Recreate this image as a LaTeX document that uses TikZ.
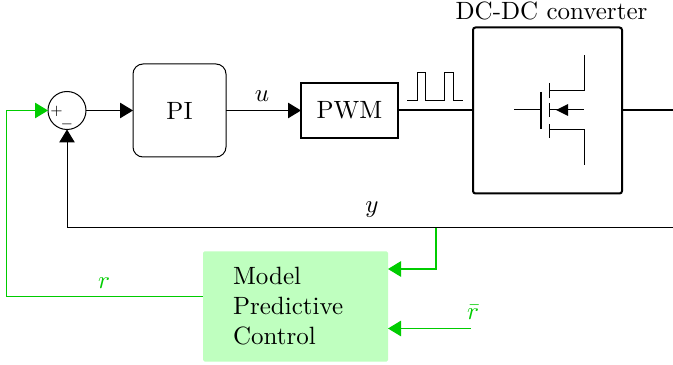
\documentclass[tikz,border=0pt]{standalone}
\usetikzlibrary{arrows.meta}
\definecolor{mpcgreen}{rgb}{0,0.8,0}
\definecolor{mpcfill}{rgb}{0.75,1,0.75}
\tikzset{
  px/.style={x=0.4pt,y=-0.4pt},
  tip/.style={-{Triangle[length=5.2pt,width=6.2pt]}},
  wire/.style={line width=0.4pt},
  heavy/.style={line width=0.8pt},
  feed/.style={line width=0.4pt,draw=mpcgreen,fill=mpcgreen},
  gwire/.style={feed,tip},
  lbl/.style={inner sep=0pt},
  glbl/.style={inner sep=0pt,text=mpcgreen},
  sign/.style={inner sep=0pt,font=\fontsize{5}{6}\selectfont},
  sumnode/.style={circle,draw,line width=0.4pt,minimum size=15.2pt,inner sep=0pt,outer sep=0pt},
  pibox/.style={draw,line width=0.4pt,rounded corners=4pt,minimum width=37.2pt,minimum height=37.2pt,inner sep=0pt,outer sep=0pt},
  pwmbox/.style={draw,heavy,minimum width=38.8pt,minimum height=22pt,inner sep=0pt,outer sep=0pt},
  dcbox/.style={draw,heavy,rounded corners=1pt,minimum width=59.6pt,minimum height=66.4pt,inner sep=0pt,outer sep=0pt},
  mpcbox/.style={fill=mpcfill,rounded corners=0.6pt,text width=50pt,align=left,inner xsep=12pt,inner ysep=0pt,minimum height=44pt,outer sep=0pt},
}
\begin{document}
\begin{tikzpicture}[px]
\useasboundingbox (0,0) rectangle (673,365);
% blocks
\node[sumnode] (sum) at (67,110.5) {};
\node[sign] (plus) at (56.5,111.5) {$+$};
\node[sign] (minus) at (67,124.5) {$-$};
\node[pibox] (pi) at (179.5,110.5) {PI};
\node[pwmbox] (pwm) at (349.5,110.5) {PWM};
\node[dcbox] (dc) at (547.5,110.5) {};
\node[lbl] (dctitle) at (551.5,11) {DC-DC converter};
\node[mpcbox] (mpc) at (295.5,306.5) {Model\\Predictive\\Control};
% free ends
\coordinate (out) at (673,110.5);
\coordinate (fbend) at (673,228);
\coordinate (fbcorner) at (67,228);
\coordinate (branch) at (436,228.5);
\coordinate (mpcin) at (388,269);
\coordinate (rbarin) at (388,328.5);
\coordinate (rbarstart) at (471,328.5);
\coordinate (rstart) at (203,297);
\coordinate (rcorner) at (6.8,297);
\coordinate (rtop) at (6.8,110.5);
% connectors
\draw[wire,tip] (sum.east) -- (pi.west);
\draw[wire,tip] (pi.east) -- (pwm.west);
\draw[heavy] (pwm.east) -- (dc.west);
\draw[heavy] (dc.east) -- (out);
\draw[wire,tip] (fbend) -- (fbcorner) -- (sum.south);
\draw[feed,line width=0.46pt,tip,fill=none] (branch) -- (branch |- mpcin) -- (mpcin);
\draw[gwire,fill=none] (rbarstart) -- (rbarin);
\draw[gwire,fill=none] (rstart) -- (rcorner) -- (rtop) -- (sum.west);
% labels
\node[lbl] (ulbl) at (262,96) {$u$};
\node[lbl] (ylbl) at (372,210) {$y$};
\node[glbl] (rlbl) at (104,283) {$r$};
\node[glbl] (rbarlbl) at (473,312) {$\bar r$};
% pulse train
\draw[wire] (407,101) -- (417,101) -- (417,73) -- (425,73) -- (425,101) -- (444,101) -- (444,73) -- (453,73) -- (453,101) -- (463,101);
% MOSFET
\draw[wire] (514,110) -- (541,110);
\draw[heavy] (541,92) -- (541,129);
\draw[wire] (549,83) -- (549,98);
\draw[wire] (549,103) -- (549,117);
\draw[wire] (549,124) -- (549,138);
\draw[wire] (549,91) -- (584,91) -- (584,55);
\draw[wire] (549,130) -- (584,130) -- (584,165);
\draw[wire] (549,110) -- (584,110);
\fill (556,110) -- (568,104) -- (568,116) -- cycle;
\end{tikzpicture}
\end{document}
